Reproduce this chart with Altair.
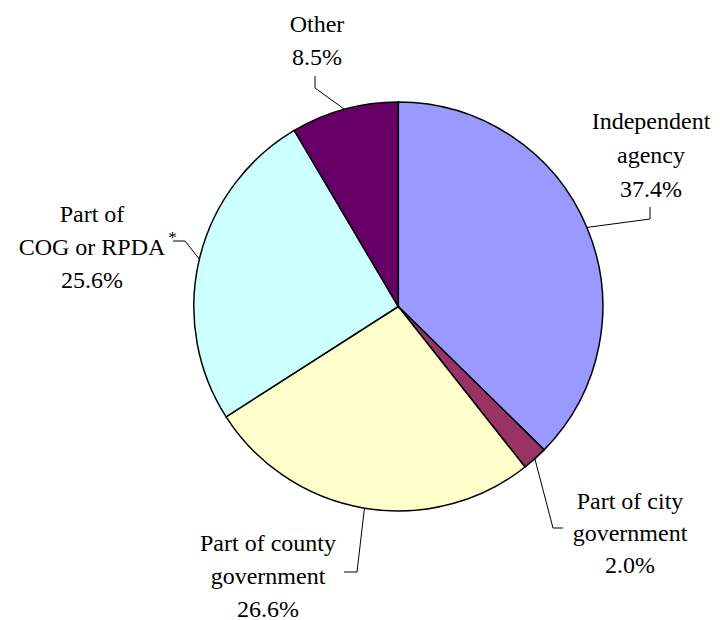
import math
import altair as alt
import pandas as pd

# ---- data ----
categories = ["Independent agency", "Part of city government",
              "Part of county government", "Part of COG or RPDA", "Other"]
label_lines = [["Independent", "agency"], ["Part of city", "government"],
               ["Part of county", "government"], ["Part of", "COG or RPDA"],
               ["Other"]]
shares = [37.4, 2.0, 26.6, 25.6, 8.5]
colors = ["#9999FF", "#993366", "#FFFFCC", "#CCFFFF", "#660066"]
footnote_mark = "*"

# ---- layout (chart pixel coords) ----
W, H = 704, 612
OFF = 8
CX, CY, R = 398.3 - OFF, 306.5 - OFF, 204.5
FONT = "Liberation Serif"
FS = 24

label_pos = [(651, 129, 34), (630, 509, 32), (268, 551, 33),
             (92, 222, 33), (317, 32, 33)]
leader_pts = [[(650, 219), (650, 207)], [(553, 528), (563, 528)],
              [(357, 572), (344, 572)], [(185, 241), (173, 241)],
              [(315, 88), (315, 76)]]
footnote_pos = (172.5, 243)

total = sum(shares)
pie_df = pd.DataFrame({"cat": categories, "share": shares,
                       "idx": list(range(len(categories)))})

rows = []
cum = 0.0
for i, (cat, v) in enumerate(zip(categories, shares)):
    mid = (cum + v / 2) / total * 2 * math.pi
    cum += v
    ex = CX + R * math.sin(mid)
    ey = CY - R * math.cos(mid)
    pts = [(ex, ey)] + [(x - OFF, y - OFF) for x, y in leader_pts[i]]
    for k, (x, y) in enumerate(pts):
        rows.append({"cat": cat, "k": k, "x": x, "y": y})
lead_df = pd.DataFrame(rows)

trows = []
for i, cat in enumerate(categories):
    lines = label_lines[i] + [f"{shares[i]:.1f}%"]
    cx, y0, sp = label_pos[i]
    for j, t in enumerate(lines):
        trows.append({"t": t, "x": cx - OFF, "y": y0 - OFF + j * sp})
text_df = pd.DataFrame(trows)
foot_df = pd.DataFrame({"t": [footnote_mark], "x": [footnote_pos[0] - OFF],
                        "y": [footnote_pos[1] - OFF]})

xs = alt.Scale(domain=[0, W], nice=False, zero=False)
ys = alt.Scale(domain=[0, H], nice=False, zero=False, reverse=True)

pie = alt.Chart(pie_df).mark_arc(stroke="black", strokeWidth=1.5,
                                 outerRadius=R).encode(
    theta=alt.Theta("share:Q", stack=True),
    order=alt.Order("idx:Q"),
    color=alt.Color("cat:N", scale=alt.Scale(domain=categories, range=colors),
                    legend=None),
    x=alt.value(CX), y=alt.value(CY),
)

leaders = alt.Chart(lead_df).mark_line(color="black", strokeWidth=1).encode(
    x=alt.X("x:Q", scale=xs, axis=None),
    y=alt.Y("y:Q", scale=ys, axis=None),
    detail="cat:N",
    order="k:Q",
)

labels = alt.Chart(text_df).mark_text(font=FONT, fontSize=FS, color="black",
                                      align="center", baseline="alphabetic").encode(
    x=alt.X("x:Q", scale=xs, axis=None),
    y=alt.Y("y:Q", scale=ys, axis=None),
    text="t:N",
)

foot = alt.Chart(foot_df).mark_text(font=FONT, fontSize=17, color="black",
                                    align="center", baseline="alphabetic").encode(
    x=alt.X("x:Q", scale=xs, axis=None),
    y=alt.Y("y:Q", scale=ys, axis=None),
    text="t:N",
)

chart = alt.layer(pie, leaders, labels, foot).properties(
    width=W, height=H, padding=0, autosize=alt.AutoSizeParams(type="none"),
    background="white",
).configure(font=FONT).configure_view(stroke=None).configure_text(font=FONT)

chart.save("out.html", embed_options={"renderer": "svg", "actions": False})
